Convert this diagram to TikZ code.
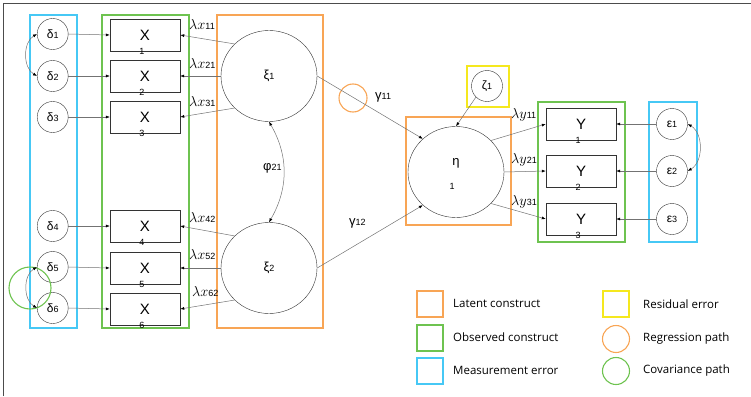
\documentclass[tikz,border=0pt]{standalone}
\usepackage{fontspec}
\setmainfont{Liberation Sans}
\newfontfamily\legendfont{Open Sans}
\usepackage{xcolor}
\usepackage{tikz}
\usetikzlibrary{shapes.geometric, arrows.meta, positioning}
\definecolor{latentcolor}{RGB}{248,165,85}
\definecolor{observedcolor}{RGB}{110,195,80}
\definecolor{errorcolor}{RGB}{70,200,245}
\definecolor{residualcolor}{RGB}{245,232,30}
\newcommand{\ssub}[1]{{\fontsize{9}{10}\selectfont #1}}

\begin{document}
\begin{tikzpicture}[x=1pt, y=-1pt,
    errcirc/.style={draw=black!80, circle, minimum size=31pt, inner sep=0pt, font=\fontsize{12}{14}\selectfont},
    latent/.style={draw=black!80, ellipse, minimum width=96pt, minimum height=91pt, inner sep=0pt, font=\fontsize{13}{15}\selectfont},
    obsbox/.style={draw=black!80, minimum width=70pt, minimum height=32pt, inner sep=0pt, font=\fontsize{15}{17}\selectfont},
    idx/.style={font=\fontsize{9}{10}\selectfont, inner sep=0pt, xshift=-3pt},
    coef/.style={font=\fontsize{14}{16}\selectfont, inner sep=0pt, anchor=west},
    grp/.style={draw=#1, line width=1.1pt},
    loadarr/.style={draw=black!55, line width=0.5pt, -{Latex[length=4pt,width=3pt,color=black]}},
    covarr/.style={draw=black!55, line width=0.5pt, {Latex[length=4pt,width=3pt,color=black]}-{Latex[length=4pt,width=3pt,color=black]}},
    legbox/.style={draw=#1, line width=1.2pt, minimum size=26pt, inner sep=0pt},
    legcirc/.style={draw=#1, line width=1.1pt, circle, minimum size=27pt, inner sep=0pt},
    legtext/.style={font=\legendfont\fontsize{11.5}{13}\selectfont, anchor=west, inner sep=0pt}]
    \useasboundingbox (0,0) rectangle (751,396);

    % frame
    \draw[black!70, line width=1.5pt] (3.5,396) -- (3.5,3.5) -- (751,3.5);

    % group boxes
    \draw[grp=errorcolor] (30,15) rectangle (77,328);
    \draw[grp=observedcolor] (102,15) rectangle (189,328);
    \draw[grp=latentcolor] (217,15) rectangle (323,328);
    \draw[grp=latentcolor] (406,117) rectangle (511,225);
    \draw[grp=residualcolor] (467,66) rectangle (509,107);
    \draw[grp=observedcolor] (538,102) rectangle (625,242);
    \draw[grp=errorcolor] (649,102) rectangle (697,242);

    % measurement errors
    \node[errcirc] (d1) at (52.7,34) {δ{\small 1}};
    \node[errcirc] (d2) at (52.7,76) {δ{\small 2}};
    \node[errcirc] (d3) at (52.7,117) {δ{\small 3}};
    \node[errcirc] (d4) at (52.7,226) {δ{\small 4}};
    \node[errcirc] (d5) at (52.7,267) {δ{\small 5}};
    \node[errcirc] (d6) at (52.7,308) {δ{\small 6}};

    % observed X
    \node[obsbox] (X1) at (145,35) {X};
    \node[idx] (X1n) at (X1.south) {1};
    \node[obsbox] (X2) at (145,76) {X};
    \node[idx] (X2n) at (X2.south) {2};
    \node[obsbox] (X3) at (145,117) {X};
    \node[idx] (X3n) at (X3.south) {3};
    \node[obsbox] (X4) at (145,226) {X};
    \node[idx] (X4n) at (X4.south) {4};
    \node[obsbox] (X5) at (145,268) {X};
    \node[idx] (X5n) at (X5.south) {5};
    \node[obsbox] (X6) at (145,309) {X};
    \node[idx] (X6n) at (X6.south) {6};

    % latent constructs
    \node[latent] (xi1) at (269,76) {ξ{\small 1}};
    \node[latent] (xi2) at (269,268) {ξ{\small 2}};
    \node[latent] (eta) at (456,172) {};
    \node[font=\fontsize{13}{15}\selectfont, inner sep=0pt] (etal) at (456,163) {η};
    \node[idx] (etan) at (455,186) {1};
    \node[errcirc] (zeta) at (487,86) {ζ{\small 1}};

    % observed Y
    \node[obsbox] (Y1) at (581,124) {Y};
    \node[idx] (Y1n) at (Y1.south) {1};
    \node[obsbox] (Y2) at (581,171) {Y};
    \node[idx] (Y2n) at (Y2.south) {2};
    \node[obsbox] (Y3) at (581,219) {Y};
    \node[idx] (Y3n) at (Y3.south) {3};
    \node[errcirc] (e1) at (672,124) {ε{\small 1}};
    \node[errcirc] (e2) at (672,171) {ε{\small 2}};
    \node[errcirc] (e3) at (672,219) {ε{\small 3}};

    % path markers
    \node[draw=observedcolor, line width=1.1pt, circle, minimum size=42pt, inner sep=0pt] (cov56) at (30,288) {};
    \node[draw=latentcolor, line width=1.1pt, circle, minimum size=28pt, inner sep=0pt] (reg11) at (353,98) {};

    % error paths
    \draw[loadarr] (d1.east) -- (X1.west);
    \draw[loadarr] (d2.east) -- (X2.west);
    \draw[loadarr] (d3.east) -- (X3.west);
    \draw[loadarr] (d4.east) -- (X4.west);
    \draw[loadarr] (d5.east) -- (X5.west);
    \draw[loadarr] (d6.east) -- (X6.west);
    \draw[loadarr] (e1.west) -- (Y1.east);
    \draw[loadarr] (e2.west) -- (Y2.east);
    \draw[loadarr] (e3.west) -- (Y3.east);

    % loadings
    \draw[loadarr] (xi1.137) -- (X1.east);
    \draw[loadarr] (xi1.west) -- (X2.east);
    \draw[loadarr] (xi1.-137) -- (X3.east);
    \draw[loadarr] (xi2.137) -- (X4.east);
    \draw[loadarr] (xi2.west) -- (X5.east);
    \draw[loadarr] (xi2.-137) -- (X6.east);
    \draw[loadarr] (eta.42) -- (Y1.west);
    \draw[loadarr] (eta.east) -- (Y2.west);
    \draw[loadarr] (eta.-42) -- (Y3.west);

    % structural paths
    \draw[loadarr] (xi1.east) -- (eta.135);
    \draw[loadarr] (xi2.east) -- (eta.-135);
    \draw[loadarr] (zeta.225) -- (eta.north);

    % covariances
    \draw[covarr] (d1.west) to[out=210, in=150] (d2.west);
    \draw[covarr] (d5.west) to[out=210, in=150] (d6.west);
    \draw[covarr] (e1.east) to[out=-30, in=30] (e2.east);
    \draw[covarr] (xi2.north) to[out=60, in=-60] (xi1.south);

    % coefficients
    \node[coef] (lx11) at (189,25) {$\lambda x$\ssub{11}};
    \node[coef] (lx21) at (189,63) {$\lambda x$\ssub{21}};
    \node[coef] (lx31) at (189,102) {$\lambda x$\ssub{31}};
    \node[coef] (lx42) at (189,217) {$\lambda x$\ssub{42}};
    \node[coef] (lx52) at (189,255) {$\lambda x$\ssub{52}};
    \node[coef] (lx62) at (192,292) {$\lambda x$\ssub{62}};
    \node[coef] (ly11) at (511,115) {$\lambda y$\ssub{11}};
    \node[coef] (ly21) at (511,160) {$\lambda y$\ssub{21}};
    \node[coef] (ly31) at (511,202) {$\lambda y$\ssub{31}};
    \node[coef, font=\fontsize{13}{15}\selectfont] (g11) at (375,97) {γ\ssub{11}};
    \node[coef, font=\fontsize{13}{15}\selectfont] (g12) at (349,223) {γ\ssub{12}};
    \node[coef, font=\fontsize{13}{15}\selectfont] (phi21) at (263,168) {φ\ssub{21}};

    % legend
    \node[legbox=latentcolor] (legLat) at (430,304) {};
    \node[legtext] (legLatT) at (453,303) {Latent construct};
    \node[legbox=observedcolor] (legObs) at (430,338) {};
    \node[legtext] (legObsT) at (453,337) {Observed construct};
    \node[legbox=errorcolor] (legErr) at (430,371) {};
    \node[legtext] (legErrT) at (453,370) {Measurement error};
    \node[legbox=residualcolor] (legRes) at (616,304) {};
    \node[legtext] (legResT) at (643,304) {Residual error};
    \node[legcirc=latentcolor] (legReg) at (616,339) {};
    \node[legtext] (legRegT) at (643,339) {Regression path};
    \node[legcirc=observedcolor] (legCov) at (616,371) {};
    \node[legtext] (legCovT) at (643,371) {Covariance path};
\end{tikzpicture}
\end{document}
